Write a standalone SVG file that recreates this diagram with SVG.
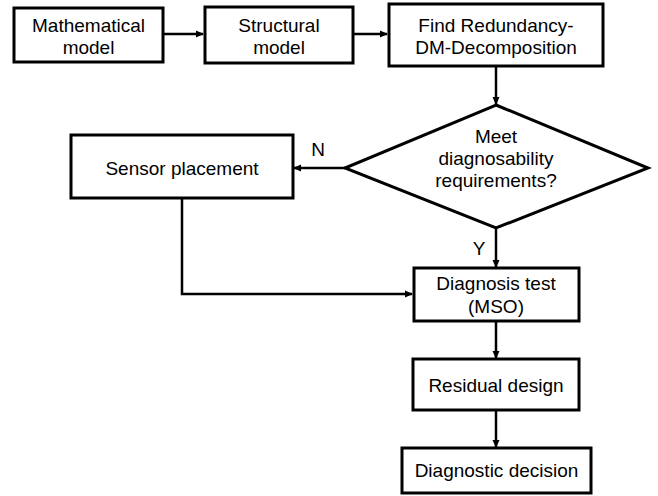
<svg xmlns="http://www.w3.org/2000/svg" width="658" height="496" viewBox="0 0 658 496">
<style>
.box{fill:#fff;stroke:#000;stroke-width:3}
.sh{fill:#bbb;opacity:.5}
.t{font-family:"Liberation Sans",Arial,sans-serif;font-size:19px;fill:#000;text-anchor:middle}
.c{fill:none;stroke:#000;stroke-width:2.5}
</style>
<defs>
<marker id="ah" markerWidth="8" markerHeight="8" refX="7" refY="4" orient="auto" markerUnits="userSpaceOnUse">
<path d="M0,0.5 L8,4 L0,7.5 Z" fill="#000"/>
</marker>
</defs>
<rect width="658" height="496" fill="#fff"/>
<g id="connectors">
<line class="c" x1="163" y1="34" x2="203" y2="34" marker-end="url(#ah)"/>
<line class="c" x1="353" y1="34" x2="387" y2="34" marker-end="url(#ah)"/>
<line class="c" x1="496" y1="66" x2="496" y2="104" marker-end="url(#ah)"/>
<line class="c" x1="345" y1="168" x2="294" y2="168" marker-end="url(#ah)"/>
<line class="c" x1="496" y1="228" x2="496" y2="267" marker-end="url(#ah)"/>
<polyline class="c" points="182,198 182,294 412,294" marker-end="url(#ah)"/>
<line class="c" x1="496" y1="321" x2="496" y2="358" marker-end="url(#ah)"/>
<line class="c" x1="496" y1="410" x2="496" y2="447" marker-end="url(#ah)"/>
</g>
<g id="math">
<rect class="box" x="14" y="8" width="149" height="54"/>
<text class="t" x="88.5" y="32">Mathematical</text>
<text class="t" x="88.5" y="54">model</text>
</g>
<g id="struct">
<rect class="box" x="205" y="7" width="148" height="56"/>
<text class="t" x="279" y="32">Structural</text>
<text class="t" x="279" y="54">model</text>
</g>
<g id="find">
<rect class="box" x="389" y="4" width="214" height="62"/>
<text class="t" x="496" y="32">Find Redundancy-</text>
<text class="t" x="496" y="54">DM-Decomposition</text>
</g>
<g id="decision">
<polygon class="box" points="496,105 648,168 496,228 345,168"/>
<text class="t" x="496" y="143">Meet</text>
<text class="t" x="496" y="165">diagnosability</text>
<text class="t" x="496" y="187">requirements?</text>
</g>
<g id="sensor">
<rect class="box" x="71" y="135" width="222" height="63"/>
<text class="t" x="182" y="175">Sensor placement</text>
</g>
<g id="labelN"><text class="t" x="318" y="156">N</text></g>
<g id="labelY"><text class="t" x="479" y="255">Y</text></g>
<g id="diagtest">
<rect class="box" x="414" y="268" width="165" height="53"/>
<text class="t" x="496" y="290">Diagnosis test</text>
<text class="t" x="496" y="313">(MSO)</text>
</g>
<g id="residual">
<rect class="box" x="413" y="359" width="166" height="51"/>
<text class="t" x="496" y="392">Residual design</text>
</g>
<g id="diagdec">
<rect class="box" x="402" y="448" width="189" height="45"/>
<text class="t" x="496.5" y="477">Diagnostic decision</text>
</g>
</svg>
